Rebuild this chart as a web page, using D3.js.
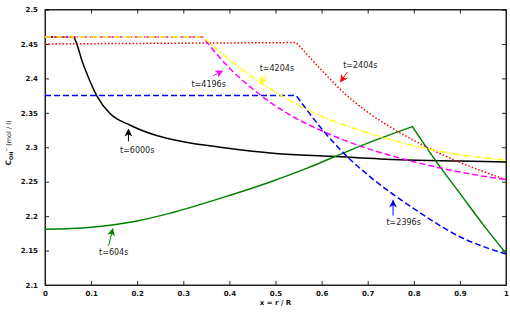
<!DOCTYPE html>
<html>
<head>
<meta charset="utf-8">
<script src="https://cdn.jsdelivr.net/npm/d3@7"></script>
<style>
  body { margin: 0; background: #fff; }
  svg text { font-family: "DejaVu Sans", sans-serif; }
</style>
</head>
<body>
<svg class="chart_svg" width="510" height="322"></svg>
<script>
// values
var xTicks = [0, 0.1, 0.2, 0.3, 0.4, 0.5, 0.6, 0.7, 0.8, 0.9, 1];
var yTicks = [2.1, 2.15, 2.2, 2.25, 2.3, 2.35, 2.4, 2.45, 2.5];

var x6000 = [0, 0.063, 0.071, 0.08, 0.092, 0.113, 0.141, 0.185, 0.242, 0.3, 0.38, 0.5, 0.62, 0.77, 0.9, 1.0];
var c6000 = [2.46, 2.46, 2.446, 2.426, 2.405, 2.374, 2.349, 2.332, 2.317, 2.308, 2.300, 2.291, 2.287, 2.282, 2.280, 2.2785];

var x604 = [0, 0.1, 0.2, 0.27, 0.4, 0.49, 0.57, 0.62, 0.7, 0.797, 0.85, 0.9, 0.95, 1.0];
var c604 = [2.181, 2.184, 2.193, 2.204, 2.23, 2.25, 2.27, 2.284, 2.306, 2.33, 2.278, 2.233, 2.188, 2.146];

var x2396 = [0, 0.545, 0.6, 0.65, 0.7, 0.75, 0.8, 0.85, 0.9, 0.95, 1.0];
var c2396 = [2.375, 2.375, 2.327, 2.29, 2.26, 2.234, 2.211, 2.189, 2.17, 2.156, 2.145];

var x2404 = [0, 0.545, 0.6, 0.65, 0.7, 0.75, 0.8, 0.85, 0.9, 0.95, 1.0];
var c2404 = [2.45, 2.452, 2.412, 2.378, 2.351, 2.329, 2.31, 2.293, 2.278, 2.265, 2.253];

var x4196 = [0, 0.342, 0.4, 0.45, 0.5, 0.55, 0.6, 0.65, 0.7, 0.75, 0.8, 0.85, 0.9, 0.95, 1.0];
var c4196 = [2.46, 2.46, 2.415, 2.385, 2.36, 2.34, 2.324, 2.31, 2.298, 2.288, 2.279, 2.271, 2.264, 2.258, 2.253];

var x4204 = [0, 0.343, 0.4, 0.45, 0.5, 0.55, 0.6, 0.65, 0.7, 0.75, 0.8, 0.85, 0.9, 0.95, 1.0];
var c4204 = [2.46, 2.46, 2.427, 2.402, 2.38, 2.361, 2.345, 2.332, 2.321, 2.311, 2.302, 2.295, 2.289, 2.285, 2.281];

// index of the sharp corner of each profile
var corners = [1, 9, 1, 1, 1, 1];

var labels = ["t=6000s", "t=604s", "t=2396s", "t=2404s", "t=4196s", "t=4204s"];

// annotation text centre, arrow tail and arrow head (data units)
var noteText = [[0.2, 2.2955], [0.149, 2.1477], [0.778, 2.1913], [0.684, 2.419], [0.355, 2.391], [0.503, 2.4142]];
var noteTail = [[0.181, 2.3085], [0.138, 2.157], [0.755, 2.201], [0.656, 2.4093], [0.365, 2.4038], [0.478, 2.4045]];
var noteHead = [[0.181, 2.326], [0.147, 2.1817], [0.755, 2.2228], [0.641, 2.3948], [0.385, 2.411], [0.467, 2.3924]];

var colors = ["#000000", "#008000", "#0000ff", "#ff0000", "#ff00ff", "#ffff00"];
var dashes = [null, null, "6,3", "1.5,2", "6,3", "6,2,1.5,2"];

var svg = d3.select("svg.chart_svg");
var mLeft = 45, mRight = 506, mTop = 9.5, mBottom = 285;

var x = d3.scaleLinear().domain([0, 1]).range([mLeft, mRight]);
var y = d3.scaleLinear().domain([2.1, 2.5]).range([mBottom, mTop]);

var series = [
  {xs: x6000, ys: c6000},
  {xs: x604, ys: c604},
  {xs: x2396, ys: c2396},
  {xs: x2404, ys: c2404},
  {xs: x4196, ys: c4196},
  {xs: x4204, ys: c4204}
];

var line = d3.line()
  .curve(d3.curveMonotoneX)
  .x(function(d) { return x(d[0]); })
  .y(function(d) { return y(d[1]); });

// smooth on each side of the corner, keep the corner sharp
function profile(s, i) {
  var pts = d3.zip(s.xs, s.ys);
  var k = corners[i];
  var a = line(pts.slice(0, k + 1));
  var b = line(pts.slice(k));
  return a + "L" + b.slice(1);
}

// axes, MATLAB style box with inward ticks
svg.append("g")
  .attr("transform", "translate(0," + mBottom + ")")
  .call(d3.axisBottom(x).tickValues(xTicks).tickSize(-4).tickPadding(6)
    .tickFormat(function(d) { return d === 0 || d === 1 ? d3.format("d")(d) : d3.format(".1f")(d); }));
svg.append("g")
  .attr("transform", "translate(0," + mTop + ")")
  .call(d3.axisTop(x).tickValues(xTicks).tickSize(-4).tickFormat(""));
svg.append("g")
  .attr("transform", "translate(" + mLeft + ",0)")
  .call(d3.axisLeft(y).tickValues(yTicks).tickSize(-4).tickPadding(7)
    .tickFormat(function(d) { return String(+d.toFixed(2)); }));
svg.append("g")
  .attr("transform", "translate(" + mRight + ",0)")
  .call(d3.axisRight(y).tickValues(yTicks).tickSize(-4).tickFormat(""));

svg.selectAll(".domain").attr("stroke", "#222").attr("stroke-width", 1);
svg.selectAll(".tick line").attr("stroke", "#222");
svg.selectAll(".tick text")
  .attr("fill", "#111")
  .style("font-family", "DejaVu Sans")
  .style("font-size", "7px")
  .style("font-weight", "bold");

svg.append("rect")
  .attr("x", mLeft).attr("y", mTop)
  .attr("width", mRight - mLeft).attr("height", mBottom - mTop)
  .attr("fill", "none").attr("stroke", "#222").attr("stroke-width", 1);

// curves
svg.selectAll("path.curve")
  .data(series)
  .enter()
  .append("path")
  .attr("class", "curve")
  .attr("d", profile)
  .attr("fill", "none")
  .attr("stroke", function(s, i) { return colors[i]; })
  .attr("stroke-width", 1.5)
  .attr("stroke-dasharray", function(s, i) { return dashes[i]; });

// arrow heads
var defs = svg.append("defs");
colors.forEach(function(c, i) {
  defs.append("marker")
    .attr("id", "arrow" + i)
    .attr("viewBox", "0 0 10 10")
    .attr("refX", 9).attr("refY", 5)
    .attr("markerWidth", 8).attr("markerHeight", 8)
    .attr("markerUnits", "userSpaceOnUse")
    .attr("orient", "auto")
    .append("path")
    .attr("d", "M0,0 L10,5 L0,10 L3,5 Z")
    .attr("fill", c);
});

svg.selectAll("line.note")
  .data(labels)
  .enter()
  .append("line")
  .attr("class", "note")
  .attr("x1", function(d, i) { return x(noteTail[i][0]); })
  .attr("y1", function(d, i) { return y(noteTail[i][1]); })
  .attr("x2", function(d, i) { return x(noteHead[i][0]); })
  .attr("y2", function(d, i) { return y(noteHead[i][1]); })
  .attr("stroke", function(d, i) { return colors[i]; })
  .attr("stroke-width", 1)
  .attr("marker-end", function(d, i) { return "url(#arrow" + i + ")"; });

svg.selectAll("text.note")
  .data(labels)
  .enter()
  .append("text")
  .attr("class", "note")
  .attr("x", function(d, i) { return x(noteText[i][0]); })
  .attr("y", function(d, i) { return y(noteText[i][1]); })
  .attr("dy", "0.35em")
  .attr("text-anchor", "middle")
  .style("font-size", "8px")
  .attr("fill", "#222")
  .text(function(d) { return d; });

// axis titles
svg.append("text")
  .attr("x", (mLeft + mRight) / 2)
  .attr("y", 305)
  .attr("text-anchor", "middle")
  .style("font-size", "7px")
  .style("font-weight", "bold")
  .attr("fill", "#111")
  .text("x = r / R");

var ylab = svg.append("text")
  .attr("transform", "translate(11,143) rotate(-90)")
  .attr("text-anchor", "middle")
  .style("font-size", "7.5px")
  .style("font-weight", "bold")
  .attr("fill", "#111");
ylab.append("tspan").text("C");
ylab.append("tspan").attr("dy", 2).style("font-size", "5px").text("OH");
ylab.append("tspan").attr("dy", -5).style("font-size", "4.5px").text("−");
ylab.append("tspan").attr("dy", 3).style("font-size", "6.5px").style("font-weight", "normal").text("  (mol / l)");
</script>
</body>
</html>
